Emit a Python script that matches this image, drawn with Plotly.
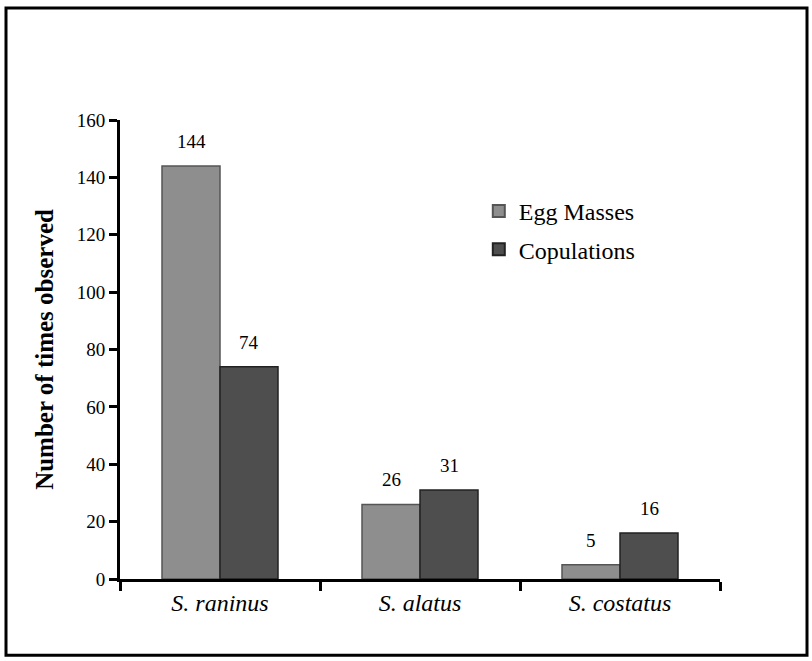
import plotly.graph_objects as go

categories = ["S. raninus", "S. alatus", "S. costatus"]
egg_masses = [144, 26, 5]
copulations = [74, 31, 16]
y_ticks = [0, 20, 40, 60, 80, 100, 120, 140, 160]

FONT = "Liberation Serif, Times New Roman, serif"
EGG_COLOR = "#8e8e8e"
COP_COLOR = "#4e4e4e"

fig = go.Figure()
fig.add_trace(go.Bar(name="Egg Masses", x=categories, y=egg_masses,
                     marker=dict(color=EGG_COLOR, line=dict(color="#555555", width=1.5)),
                     offsetgroup="a", legendgroup="a"))
fig.add_trace(go.Bar(name="Copulations", x=categories, y=copulations,
                     marker=dict(color=COP_COLOR, line=dict(color="#222222", width=1.5)),
                     offsetgroup="b", legendgroup="b"))

# value labels above bars
for i, c in enumerate(categories):
    for val, off in ((egg_masses[i], -0.145), (copulations[i], 0.145)):
        fig.add_annotation(x=i + off, y=val, text=str(val), showarrow=False,
                           xref="x", yref="y", yanchor="bottom", yshift=12,
                           font=dict(family=FONT, size=19, color="black"))

fig.update_layout(
    width=812, height=661,
    margin=dict(l=120, r=92, t=120, b=82),
    paper_bgcolor="white", plot_bgcolor="white",
    barmode="group", bargap=0.42, bargroupgap=0,
    font=dict(family=FONT, color="black"),
    showlegend=True,
    legend=dict(x=0.598, y=0.85, xanchor="left", yanchor="top",
                font=dict(family=FONT, size=24, color="black"),
                traceorder="grouped", tracegroupgap=4,
                bgcolor="rgba(0,0,0,0)", itemsizing="constant"),
)
fig.update_xaxes(
    type="category", range=[-0.5, 2.5],
    showline=True, linecolor="black", linewidth=3,
    ticks="outside", tickson="boundaries", ticklen=9, tickwidth=3, tickcolor="black",
    tickfont=dict(family=FONT, size=24, color="black"),
    ticktext=["<i>" + c + "</i>" for c in categories], tickvals=categories,
    showgrid=False, zeroline=False,
)
fig.update_yaxes(
    range=[0, 160], tickvals=y_ticks,
    showline=True, linecolor="black", linewidth=3,
    ticks="outside", ticklen=8, tickwidth=3, tickcolor="black",
    tickfont=dict(family=FONT, size=19, color="black"),
    title=dict(text="<b>Number of times observed</b>", font=dict(family=FONT, size=25, color="black"), standoff=16),
    showgrid=False, zeroline=False,
)
# outer frame
fig.add_shape(type="rect", xref="paper", yref="paper",
              x0=-0.19, x1=1.145, y0=-0.166, y1=1.244,
              line=dict(color="black", width=3), fillcolor="rgba(0,0,0,0)", layer="below")

fig.write_html("out.html")
